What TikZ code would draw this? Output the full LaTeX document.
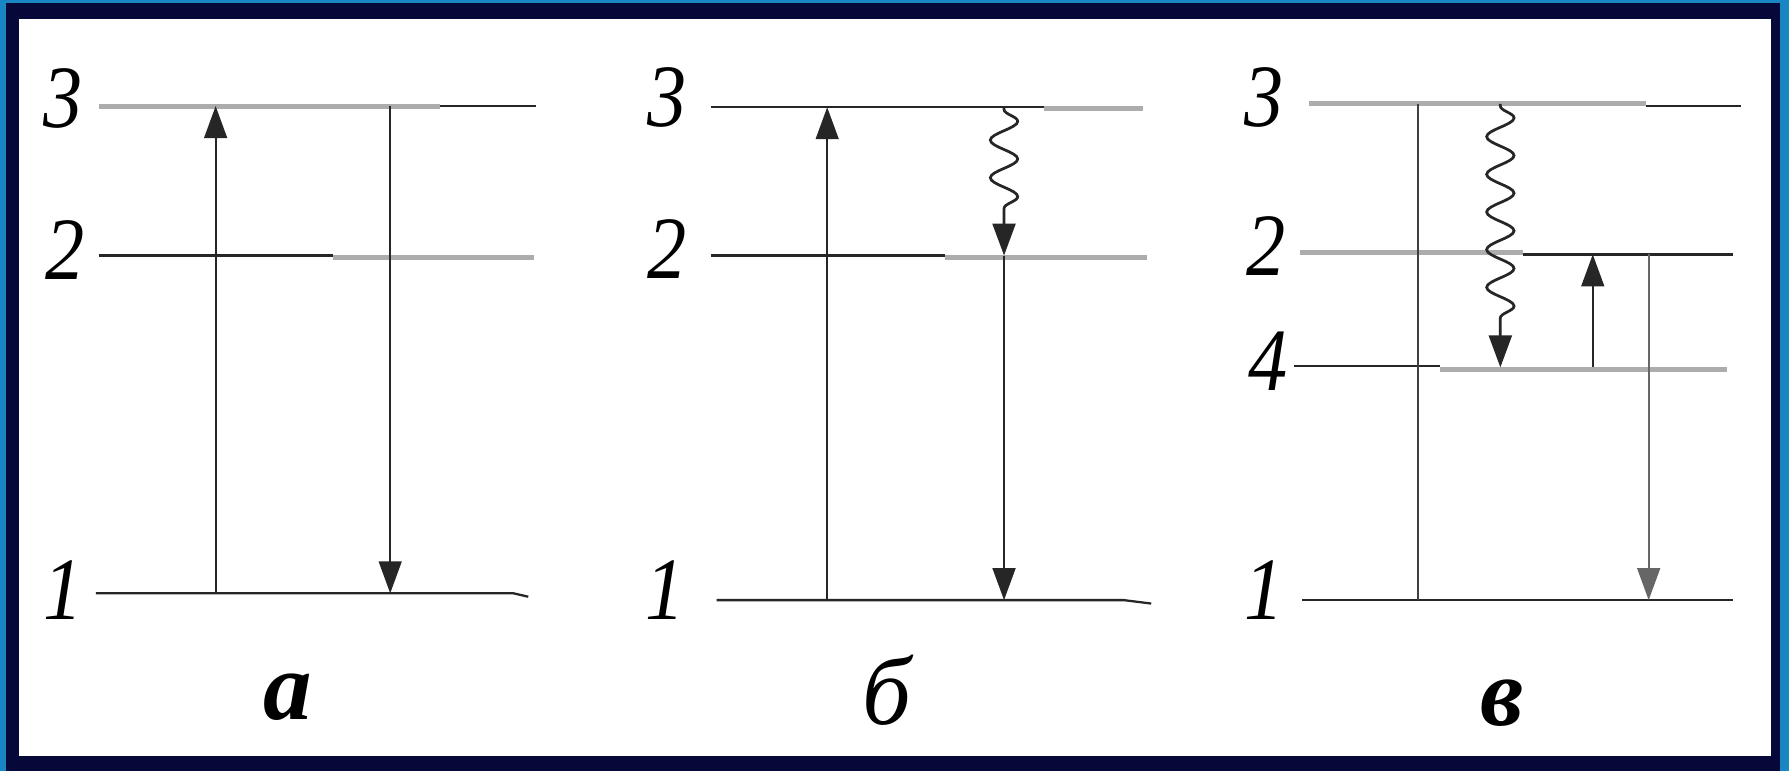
\documentclass[tikz,border=0pt]{standalone}
\usepackage{fontspec}
\setmainfont{Liberation Serif}
\usetikzlibrary{arrows.meta,decorations.pathmorphing}
\definecolor{outerblue}{RGB}{24,134,194}
\definecolor{navyframe}{RGB}{6,8,58}
\definecolor{lvlgray}{RGB}{172,172,172}
\begin{document}
\begin{tikzpicture}[x=1pt,y=-1pt,
  lvl/.style={line width=2pt, black!85},
  glvl/.style={line width=4.5pt, lvlgray},
  arr/.style={line width=1.8pt, black!85, -{Triangle[length=28pt,width=20pt]}},
  wavy/.style={line width=2.4pt, black!85, -{Triangle[length=28pt,width=20pt]}, decorate,
     decoration={snake, amplitude=12pt, segment length=33pt, pre length=2pt, post length=28pt}},
  numlabel/.style={font=\fontsize{78}{78}\selectfont\itshape, inner sep=0pt, xscale=0.88},
  panellabel/.style={font=\fontsize{85}{85}\selectfont\bfseries\itshape, inner sep=0pt}]
\useasboundingbox (0,0) rectangle (1568,676);
% frame
\fill[outerblue] (0,0) rectangle (1568,676);
\fill[navyframe] (5,3) rectangle (1560,676);
\fill[white] (17,17) rectangle (1552,663);

% ---------- panel a ----------
\draw[glvl] (87,93) -- (386,93);
\draw[lvl] (386,93) -- (470,93);
\draw[lvl] (87,224) -- (292,224);
\draw[glvl] (292,226) -- (468,226);
\draw[lvl] (84,520) -- (450,520) -- (463,523);
\node[numlabel] (a3) at (55,86) {3};
\node[numlabel] (a2) at (57,219) {2};
\node[numlabel] (a1) at (55,517) {1};
\coordinate (aUpS) at (189,520); \coordinate (aUpE) at (189,93);
\coordinate (aDnS) at (342,93);  \coordinate (aDnE) at (342,520);
\draw[arr] (aUpS) -- (aUpE);
\draw[arr] (aDnS) -- (aDnE);
\node[panellabel] (la) at (252,611) {а};

% ---------- panel b ----------
\draw[lvl] (623,94) -- (915,94);
\draw[glvl] (915,95) -- (1002,95);
\draw[lvl] (623,224) -- (828,224);
\draw[glvl] (828,226) -- (1005,226);
\draw[lvl] (628,526) -- (985,526) -- (1009,529);
\node[numlabel] (b3) at (585,85) {3};
\node[numlabel] (b2) at (585,218) {2};
\node[numlabel] (b1) at (583,517) {1};
\coordinate (bUpS) at (725,526); \coordinate (bUpE) at (725,94);
\coordinate (bWvS) at (880,94);  \coordinate (bWvE) at (880,224);
\coordinate (bDnS) at (880,224); \coordinate (bDnE) at (880,526);
\draw[arr] (bUpS) -- (bUpE);
\draw[wavy] (bWvS) -- (bWvE);
\draw[arr] (bDnS) -- (bDnE);
\node[panellabel, font=\fontsize{85}{85}\selectfont\itshape] (lb) at (777,605) {б};

% ---------- panel c ----------
\draw[glvl] (1147,91) -- (1443,91);
\draw[lvl] (1443,93) -- (1526,93);
\draw[glvl] (1139,221) -- (1335,221);
\draw[lvl] (1335,223) -- (1519,223);
\draw[lvl] (1134,321) -- (1262,321);
\draw[glvl] (1262,324) -- (1514,324);
\draw[lvl] (1141,526) -- (1519,526);
\node[numlabel] (c3) at (1108,85) {3};
\node[numlabel] (c2) at (1110,216) {2};
\node[numlabel] (c4) at (1111,317) {4};
\node[numlabel] (c1) at (1108,517) {1};
\coordinate (cVS) at (1243,91);  \coordinate (cVE) at (1243,526);
\coordinate (cWvS) at (1315,91); \coordinate (cWvE) at (1315,322);
\coordinate (cUpS) at (1396,322); \coordinate (cUpE) at (1396,223);
\coordinate (cDnS) at (1445,223); \coordinate (cDnE) at (1445,526);
\draw[line width=1.8pt, black!75] (cVS) -- (cVE);
\draw[wavy] (cWvS) -- (cWvE);
\draw[arr] (cUpS) -- (cUpE);
\draw[arr, black!60] (cDnS) -- (cDnE);
\node[panellabel] (lc) at (1317,616) {в};
\end{tikzpicture}
\end{document}
